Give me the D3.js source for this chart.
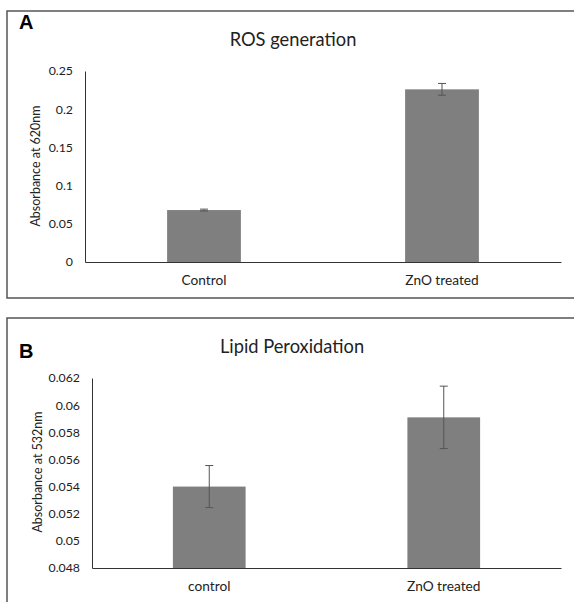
<!DOCTYPE html>
<html>
<head>
<meta charset="utf-8">
<script src="https://cdn.jsdelivr.net/npm/d3@7"></script>
<style>
	body { margin: 0; background: #fff; }
	svg text { font-family: Lato, "Open Sans", sans-serif; fill: #222; }
</style>
</head>
<body>
<svg id="chart" width="574" height="602"></svg>
<script>
// panel A: ROS generation
var rosCategories = ['Control', 'ZnO treated'];
var rosValues = [0.068, 0.226];
var rosErrors = [0.0012, 0.0077];
var rosTicks = [0, 0.05, 0.1, 0.15, 0.2, 0.25];

// panel B: lipid peroxidation
var lipidCategories = ['control', 'ZnO treated'];
var lipidValues = [0.0540, 0.0591];
var lipidErrors = [0.00155, 0.0023];
var lipidTicks = [0.048, 0.05, 0.052, 0.054, 0.056, 0.058, 0.06, 0.062];

var BAR = '#7f7f7f';
var svg = d3.select('#chart');

function drawPanel(opt){
	var g = svg.append('g');

	// frame, open at the right and bottom edge like the cropped figure
	g.append('path')
		.attr('d', opt.frame)
		.attr('fill', 'none')
		.attr('stroke', '#555')
		.attr('stroke-width', 1.5);

	g.append('text')
		.attr('x', 19).attr('y', opt.letterY)
		.style('font-family', 'Liberation Sans, Arial, sans-serif')
		.style('font-weight', 'bold')
		.style('font-size', '20px')
		.style('fill', '#000')
		.text(opt.letter);

	g.append('text')
		.attr('x', opt.titleX).attr('y', opt.titleY)
		.attr('text-anchor', 'middle')
		.style('font-size', '18.3px')
		.text(opt.title);

	var x = d3.scaleBand()
		.domain(opt.categories)
		.range([opt.left, opt.right])
		.paddingInner(0.69)
		.paddingOuter(0.345);

	var y = d3.scaleLinear()
		.domain(opt.domain)
		.range([opt.bottom, opt.top]);

	var yAxis = d3.axisLeft(y)
		.tickValues(opt.ticks)
		.tickSize(0)
		.tickPadding(12)
		.tickFormat(function(d){ return String(+d.toFixed(3)); });

	var ya = g.append('g')
		.attr('transform', 'translate(' + opt.left + ',0)')
		.call(yAxis);
	ya.select('.domain').attr('stroke', '#333');
	ya.selectAll('text').style('font-size', '12.3px').style('font-family', 'Lato, sans-serif').attr('fill', '#222');

	var xAxis = d3.axisBottom(x).tickSize(0).tickPadding(13);
	var xa = g.append('g')
		.attr('transform', 'translate(0,' + opt.bottom + ')')
		.call(xAxis);
	xa.select('.domain').attr('stroke', '#333');
	xa.selectAll('text').style('font-size', '13.7px').style('font-family', 'Lato, sans-serif').attr('fill', '#222');

	g.selectAll('rect.bar')
		.data(opt.values)
		.enter().append('rect')
		.attr('class', 'bar')
		.attr('x', function(d, i){ return x(opt.categories[i]); })
		.attr('width', x.bandwidth())
		.attr('y', function(d){ return y(d); })
		.attr('height', function(d){ return y(opt.domain[0]) - y(d); })
		.attr('fill', BAR);

	// error bars
	var err = g.selectAll('g.err')
		.data(opt.values)
		.enter().append('g')
		.attr('class', 'err')
		.attr('stroke', '#555')
		.attr('stroke-width', 1);
	err.append('line')
		.attr('x1', function(d, i){ return x(opt.categories[i]) + x.bandwidth()/2; })
		.attr('x2', function(d, i){ return x(opt.categories[i]) + x.bandwidth()/2; })
		.attr('y1', function(d, i){ return y(d + opt.errors[i]); })
		.attr('y2', function(d, i){ return y(d - opt.errors[i]); });
	[1, -1].forEach(function(s){
		err.append('line')
			.attr('x1', function(d, i){ return x(opt.categories[i]) + x.bandwidth()/2 - 4; })
			.attr('x2', function(d, i){ return x(opt.categories[i]) + x.bandwidth()/2 + 4; })
			.attr('y1', function(d, i){ return y(d + s*opt.errors[i]); })
			.attr('y2', function(d, i){ return y(d + s*opt.errors[i]); });
	});

	g.append('text')
		.attr('transform', 'translate(' + opt.ylabelX + ',' + opt.ylabelY + ') rotate(-90)')
		.attr('text-anchor', 'middle')
		.style('font-size', '12.5px')
		.text(opt.ylabel);
}

drawPanel({
	letter: 'A', letterY: 29,
	frame: 'M574,11 H7 V298 H574',
	title: 'ROS generation', titleX: 293, titleY: 46,
	categories: rosCategories, values: rosValues, errors: rosErrors,
	ticks: rosTicks, domain: [0, 0.25],
	left: 85, right: 561, top: 71, bottom: 262,
	ylabel: 'Absorbance at 620nm', ylabelX: 40, ylabelY: 166
});

drawPanel({
	letter: 'B', letterY: 358,
	frame: 'M574,318 H7 V602',
	title: 'Lipid Peroxidation', titleX: 292, titleY: 353,
	categories: lipidCategories, values: lipidValues, errors: lipidErrors,
	ticks: lipidTicks, domain: [0.048, 0.062],
	left: 92, right: 561, top: 378, bottom: 568,
	ylabel: 'Absorbance at 532nm', ylabelX: 42, ylabelY: 472
});
</script>
</body>
</html>
